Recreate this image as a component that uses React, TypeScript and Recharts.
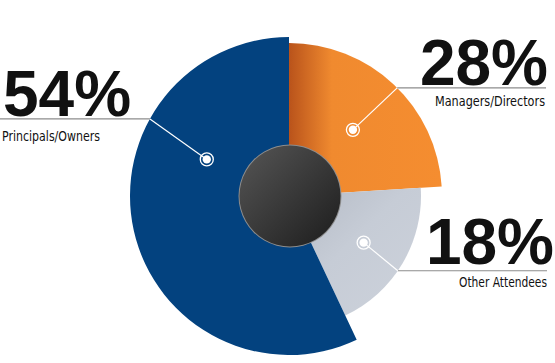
import React from "react";
import { PieChart, Pie, Cell } from "recharts";

// attendee breakdown
const segments = ["Managers/Directors", "Other Attendees", "Principals/Owners"];
const percentLabels = ["28%", "18%", "54%"];
// slice sizes as drawn in the graphic (share of the full turn)
const arcShares = [24, 19, 57];

const data = segments.map((name, i) => ({
  name,
  share: arcShares[i],
  pct: percentLabels[i],
}));

const CX = 289;
const CY = 196;

// per slice look: fill + outer radius
const sliceStyle = [
  { fill: "url(#orangeFill)", radius: 153 },
  { fill: "url(#grayFill)", radius: 132 },
  { fill: "#03427f", radius: 159 },
];

// callout layout per slice (captions are squeezed to smallW, starting at smallX)
const callouts = [
  { dotAngle: 46, dotR: 92, elbowAngle: 45, side: "right", lineTo: 546, bigX: 548, bigDy: -3, smallX: 435, smallDy: 18, smallW: 110 },
  { dotAngle: -32, dotR: 88, elbowAngle: -34.5, side: "right", lineTo: 547, bigX: 554, bigDy: -7, smallX: 459, smallDy: 16, smallW: 88 },
  { dotAngle: 156, dotR: 90, elbowAngle: 151, side: "left", lineTo: 0, bigX: 3, bigDy: -3, smallX: 2, smallDy: 22, smallW: 98 },
];

const RAD = Math.PI / 180;
const polar = (cx: number, cy: number, r: number, a: number) => ({
  x: cx + r * Math.cos(a * RAD),
  y: cy - r * Math.sin(a * RAD),
});

const bigFont = "'Liberation Sans', Arial, sans-serif";
const smallFont = "'Liberation Sans Narrow', 'DejaVu Sans Condensed', 'Liberation Sans', sans-serif";

const renderCallout = (props: any) => {
  const { index } = props;
  const cx = props.cx ?? CX;
  const cy = props.cy ?? CY;
  const c = callouts[index];
  const r = sliceStyle[index].radius;
  const dot = polar(cx, cy, c.dotR, c.dotAngle);
  const elbow = polar(cx, cy, r, c.elbowAngle);
  const anchor = c.side === "left" ? "start" : "end";
  return (
    <g key={`callout-${index}`}>
      <line x1={elbow.x} y1={elbow.y} x2={c.lineTo} y2={elbow.y} stroke="#8c8c8c" strokeWidth={1.2} />
      <line x1={dot.x} y1={dot.y} x2={elbow.x} y2={elbow.y} stroke="#ffffff" strokeWidth={1.2} />
      <circle cx={dot.x} cy={dot.y} r={6.5} fill="none" stroke="#ffffff" strokeWidth={1.3} />
      <circle cx={dot.x} cy={dot.y} r={4.2} fill="#ffffff" />
      <text
        x={c.bigX}
        y={elbow.y + c.bigDy}
        textAnchor={anchor}
        fontFamily={bigFont}
        fontWeight={700}
        fontSize={64}
        fill="#111111"
      >
        {data[index].pct}
      </text>
      <text
        x={c.smallX}
        y={elbow.y + c.smallDy}
        textAnchor="start"
        fontFamily={smallFont}
        fontSize={14}
        textLength={c.smallW}
        lengthAdjust="spacingAndGlyphs"
        fill="#111111"
      >
        {data[index].name}
      </text>
    </g>
  );
};

export default function App() {
  return (
    <div style={{ position: "absolute", left: 0, top: 0, width: 555, height: 363, background: "#ffffff" }}>
      <PieChart width={555} height={363} margin={{ top: 0, right: 0, bottom: 0, left: 0 }}>
        <defs>
          <linearGradient id="orangeFill" x1="0" y1="0" x2="1" y2="0">
            <stop offset="0%" stopColor="#b9531b" />
            <stop offset="28%" stopColor="#f08a2f" />
            <stop offset="100%" stopColor="#f58d30" />
          </linearGradient>
          <linearGradient id="grayFill" x1="0" y1="0" x2="1" y2="1">
            <stop offset="0%" stopColor="#b3b9c4" />
            <stop offset="45%" stopColor="#c6ccd6" />
            <stop offset="100%" stopColor="#cdd2db" />
          </linearGradient>
          <linearGradient id="discFill" x1="0" y1="0" x2="1" y2="1">
            <stop offset="0%" stopColor="#565656" />
            <stop offset="100%" stopColor="#1c1c1c" />
          </linearGradient>
        </defs>
        {sliceStyle.map((s, k) => (
          <Pie
            key={`slice-${k}`}
            data={data}
            dataKey="share"
            cx={CX}
            cy={CY}
            startAngle={90}
            endAngle={-270}
            innerRadius={0}
            outerRadius={s.radius}
            stroke="none"
            isAnimationActive={false}
            label={k === 1 ? renderCallout : false}
            labelLine={false}
          >
            {data.map((d, i) => (
              <Cell key={`cell-${k}-${i}`} fill={i === k ? s.fill : "none"} stroke="none" />
            ))}
          </Pie>
        ))}
        {/* hub: thin grey rim, then the dark disc */}
        <Pie
          data={[{ name: "rim", v: 1 }]}
          dataKey="v"
          cx={CX + 1}
          cy={CY}
          innerRadius={0}
          outerRadius={51.5}
          fill="#8d8d8d"
          stroke="none"
          isAnimationActive={false}
        />
        <Pie
          data={[{ name: "hub", v: 1 }]}
          dataKey="v"
          cx={CX + 1}
          cy={CY}
          innerRadius={0}
          outerRadius={50.5}
          fill="url(#discFill)"
          stroke="none"
          isAnimationActive={false}
        />
      </PieChart>
    </div>
  );
}
